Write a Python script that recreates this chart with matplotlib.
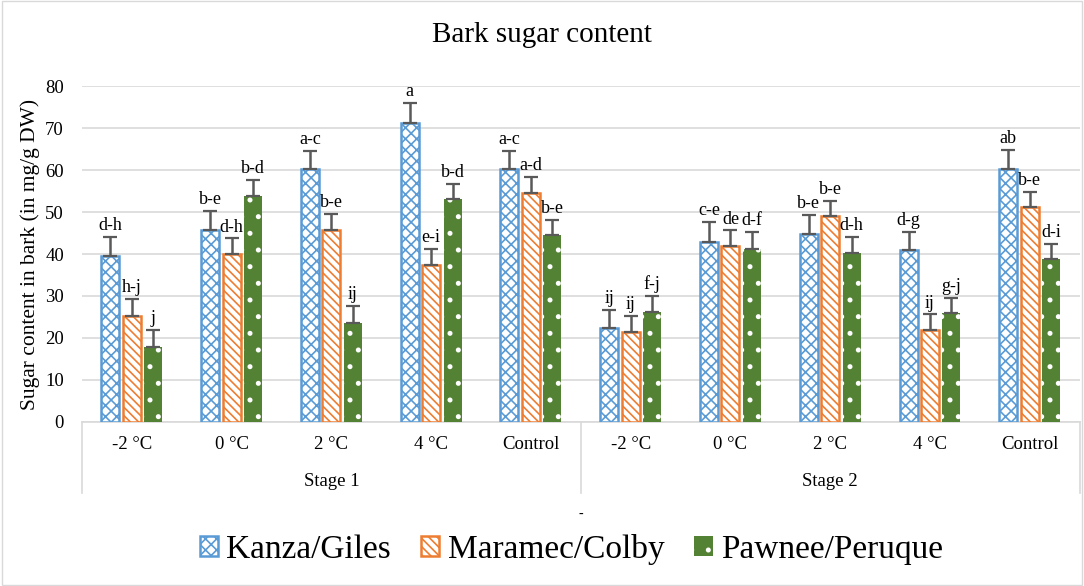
import numpy as np
import matplotlib
matplotlib.use('Agg')
import matplotlib.pyplot as plt
from matplotlib.lines import Line2D

plt.rcParams['font.family'] = ['Liberation Serif', 'DejaVu Serif']
plt.rcParams['hatch.linewidth'] = 1.2

# data
stages = ['Stage 1', 'Stage 2']
temps = ['-2 °C', '0 °C', '2 °C', '4 °C', 'Control']
series = ['Kanza/Giles', 'Maramec/Colby', 'Pawnee/Peruque']

kanza = [39.6, 45.7, 60.2, 71.2, 60.2, 22.3, 42.9, 44.8, 41.0, 60.2]
maramec = [25.3, 40.0, 45.8, 37.5, 54.6, 21.5, 41.8, 49.0, 21.9, 51.1]
pawnee = [17.9, 53.9, 23.6, 53.1, 44.5, 26.2, 41.3, 40.2, 25.9, 38.7]

kanza_err = [4.4, 4.5, 4.4, 4.7, 4.4, 4.4, 4.7, 4.6, 4.3, 4.6]
maramec_err = [3.9, 3.7, 3.8, 3.7, 3.7, 3.8, 3.8, 3.7, 3.7, 3.7]
pawnee_err = [3.9, 3.8, 4.0, 3.6, 3.6, 3.8, 4.0, 3.8, 3.7, 3.8]

kanza_lab = ['d-h', 'b-e', 'a-c', 'a', 'a-c', 'ij', 'c-e', 'b-e', 'd-g', 'ab']
maramec_lab = ['h-j', 'd-h', 'b-e', 'e-i', 'a-d', 'ij', 'de', 'b-e', 'ij', 'b-e']
pawnee_lab = ['j', 'b-d', 'ij', 'b-d', 'b-e', 'f-j', 'd-f', 'd-h', 'g-j', 'd-i']

blue = '#5B9BD5'
orange = '#ED7D31'
green = '#548235'

fig = plt.figure(figsize=(10.84, 5.86), dpi=100)
ax = fig.add_axes([0.0756, 0.2799, 0.9204, 0.5733])

x = np.arange(len(kanza))
w = 0.18
step = 0.215

vals = [kanza, maramec, pawnee]
errs = [kanza_err, maramec_err, pawnee_err]
labs = [kanza_lab, maramec_lab, pawnee_lab]
styles = [dict(facecolor='white', edgecolor=blue, hatch='xxx', linewidth=1.8),
          dict(facecolor='white', edgecolor=orange, hatch='\\\\\\\\', linewidth=1.8),
          dict(facecolor=green, edgecolor='white', hatch='.', linewidth=0)]

handles = []
for i in range(3):
    pos = x + (i - 1) * step
    b = ax.bar(pos, vals[i], w, zorder=3, **styles[i])
    handles.append(b)
    ax.errorbar(pos, vals[i], yerr=[np.zeros(len(x)), errs[i]], fmt='none',
                ecolor='#595959', elinewidth=1.8, capsize=5, capthick=1.6, zorder=4)
    for p, v, e, t in zip(pos, vals[i], errs[i], labs[i]):
        ax.text(p, v + e + 0.7, t, ha='center', va='bottom', fontsize=13)

ax.set_ylim(0, 80)
ax.set_xlim(-0.5, len(x) - 0.5)
ax.set_yticks(range(0, 81, 10))
ax.tick_params(axis='y', length=0, labelsize=13.5, pad=13)
ax.set_xticks([])
ax.grid(axis='y', color='#D9D9D9', linewidth=1.2, zorder=0)
for s in ['top', 'right', 'left']:
    ax.spines[s].set_visible(False)
ax.spines['bottom'].set_color('#D9D9D9')
ax.spines['bottom'].set_linewidth(1.2)
ax.set_ylabel('Sugar content in bark (in mg/g DW)', fontsize=15.5, labelpad=4)

# multi level category axis
tr = ax.get_xaxis_transform()
for j in range(len(x)):
    ax.text(x[j], -0.068, temps[j % 5], transform=tr, ha='center', va='center', fontsize=13.5)
for k in range(2):
    ax.text(2 + 5 * k, -0.178, stages[k], transform=tr, ha='center', va='center', fontsize=13.5)
for xs in [-0.5, 4.5, 9.5]:
    ax.add_line(Line2D([xs, xs], [0, -0.21], transform=tr, color='#D9D9D9',
                       linewidth=1.2, clip_on=False))
ax.text(4.5, -0.275, '-', transform=tr, ha='center', va='center', fontsize=10)

fig.text(0.5, 0.94, 'Bark sugar content', ha='center', va='center', fontsize=21)

fig.legend(handles, series, loc='center', bbox_to_anchor=(0.527, 0.063), ncol=3,
           frameon=False, fontsize=24, handlelength=0.55, handleheight=0.55,
           handletextpad=0.25, columnspacing=0.9)

fig.patches.append(plt.Rectangle((0.002, 0.002), 0.996, 0.996, transform=fig.transFigure,
                                 fill=False, edgecolor='#D9D9D9', linewidth=1))

plt.savefig('out.png', dpi=100)
